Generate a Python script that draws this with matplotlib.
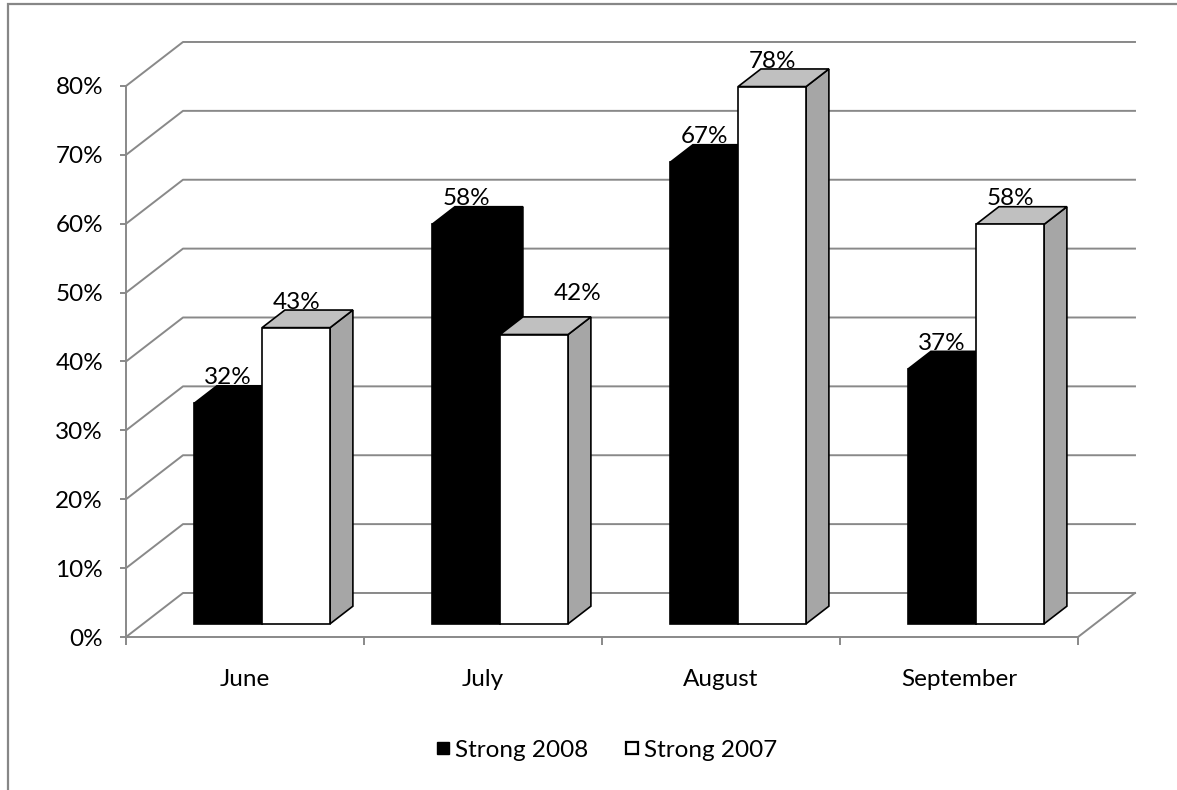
import matplotlib
matplotlib.use("Agg")
import matplotlib.pyplot as plt
from matplotlib.patches import Polygon, Rectangle
from matplotlib.lines import Line2D
from matplotlib.ticker import FuncFormatter

plt.rcParams['font.family'] = ['Lato', 'DejaVu Sans']

months = ["June", "July", "August", "September"]
strong_2008 = [32, 58, 67, 37]
strong_2007 = [43, 42, 78, 58]
series_names = ["Strong 2008", "Strong 2007"]
y_ticks = [0, 10, 20, 30, 40, 50, 60, 70, 80]

# oblique "3d" look: how far the back wall sits, in data units
DX = 0.2395
DY = 6.39
BAR_W = 0.2857
D_FRONT, D_BACK = 0.3, 0.7
GRID = "#898989"
FS = 17.5

fig = plt.figure(figsize=(11.77, 7.90), dpi=100)
ax = fig.add_axes([126 / 1177, 153 / 790, 952 / 1177, 551 / 790])
ax.set_xlim(0, len(months))
ax.set_ylim(0, y_ticks[-1])
ax.patch.set_visible(False)

# outer chart frame
fig.patches.append(Rectangle((8 / 1177, -0.1), 1.2, 1.1 - 4 / 790, transform=fig.transFigure,
                             fill=False, edgecolor="#878787", linewidth=1.6))


def shift(x, y, d):
    return (x + d * DX, y + d * DY)


# back wall gridlines with their diagonal lead-in from the front axis
n = len(months)
for v in y_ticks:
    pts = [(0, v), shift(0, v, 1), shift(n, v, 1)]
    ax.add_line(Line2D([p[0] for p in pts], [p[1] for p in pts], color=GRID, lw=1.4,
                       clip_on=False, zorder=1))
# floor right edge
fr = [(n, 0), shift(n, 0, 1)]
ax.add_line(Line2D([p[0] for p in fr], [p[1] for p in fr], color=GRID, lw=1.4, clip_on=False, zorder=1))


def draw_bar(x0, h, face, top, side):
    x1 = x0 + BAR_W
    a, b = D_FRONT, D_BACK
    front = [shift(x0, 0, a), shift(x1, 0, a), shift(x1, h, a), shift(x0, h, a)]
    topf = [shift(x0, h, a), shift(x1, h, a), shift(x1, h, b), shift(x0, h, b)]
    sidef = [shift(x1, 0, a), shift(x1, 0, b), shift(x1, h, b), shift(x1, h, a)]
    for poly, c in ((sidef, side), (topf, top), (front, face)):
        ax.add_patch(Polygon(poly, closed=True, facecolor=c, edgecolor="black", lw=1.2,
                             joinstyle="miter", clip_on=False, zorder=3))


label_shift = {(1, 1): (31, 12)}
for i, m in enumerate(months):
    x_left = i + 0.5 - BAR_W
    for j, (vals, colors) in enumerate(((strong_2008, ("black", "black", "black")),
                                        (strong_2007, ("white", "#c0c0c0", "#a6a6a6")))):
        x0 = x_left + j * BAR_W
        draw_bar(x0, vals[i], *colors)
        lx, ly = shift(x0 + BAR_W / 2, vals[i], D_FRONT)
        ly = vals[i] + D_BACK * DY
        off = label_shift.get((i, j), (0, 1))
        ax.annotate(f"{vals[i]}%", (lx, ly), xytext=off, textcoords="offset points",
                    ha="center", va="baseline", fontsize=FS, color="black", zorder=5,
                    annotation_clip=False)

# axes lines and ticks
for s in ("top", "right"):
    ax.spines[s].set_visible(False)
for s in ("left", "bottom"):
    ax.spines[s].set_color(GRID)
    ax.spines[s].set_linewidth(1.4)
    ax.spines[s].set_zorder(2)
ax.set_yticks(y_ticks)
ax.yaxis.set_major_formatter(FuncFormatter(lambda v, p: f"{v:.0f}%"))
ax.tick_params(axis="y", direction="out", length=4.5, width=1.4, color=GRID, pad=12,
               labelsize=FS, labelcolor="black")
ax.set_xticks(range(n + 1))
ax.set_xticklabels([""] * (n + 1))
ax.set_xticks([i + 0.5 for i in range(n)], minor=True)
ax.set_xticklabels(months, minor=True)
ax.tick_params(axis="x", which="major", direction="out", length=6, width=1.4, color=GRID)
ax.tick_params(axis="x", which="minor", length=0, pad=23, labelsize=FS, labelcolor="black")

handles = [Line2D([], [], marker="s", ls="none", markersize=9, markerfacecolor="black",
                  markeredgecolor="black"),
           Line2D([], [], marker="s", ls="none", markersize=9, markerfacecolor="white",
                  markeredgecolor="black", markeredgewidth=1.6)]
fig.legend(handles, series_names, loc="center", bbox_to_anchor=(605 / 1177, 1 - 750 / 790),
           ncol=2, frameon=False, fontsize=FS, handletextpad=0.1, columnspacing=1.4,
           handlelength=0.8)

fig.savefig("out.png", dpi=100)
